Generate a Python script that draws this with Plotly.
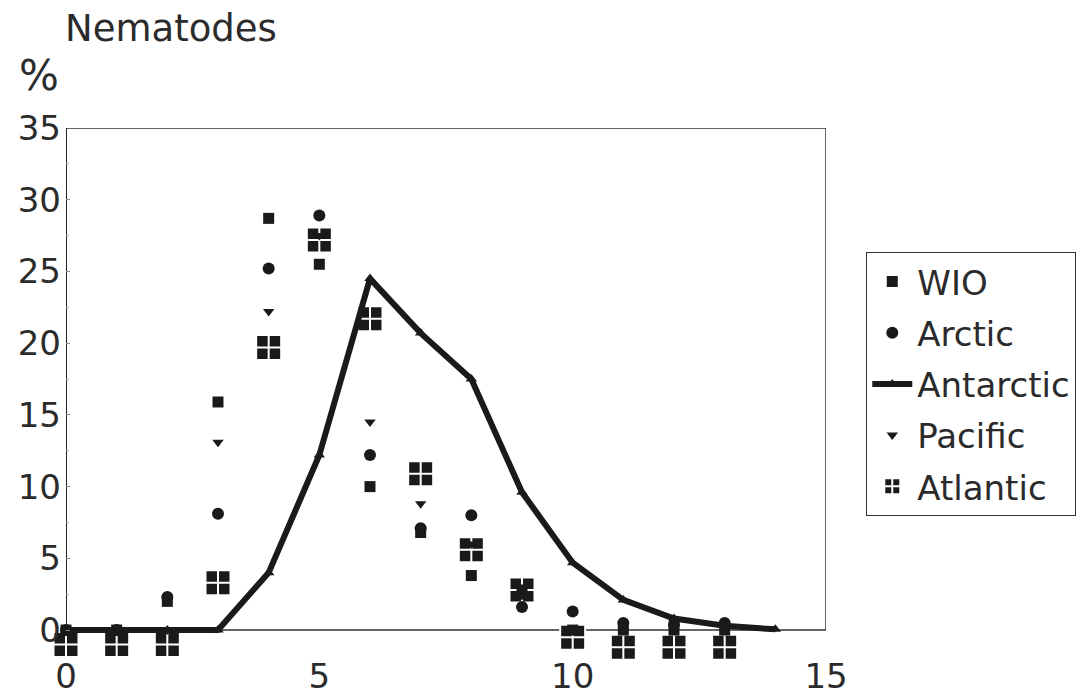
import plotly.graph_objects as go

x_vals = [0, 1, 2, 3, 4, 5, 6, 7, 8, 9, 10, 11, 12, 13]
wio = [0, 0, 2.0, 15.9, 28.7, 25.5, 10.0, 6.8, 3.8, 2.5, 0, 0, 0, 0]
arctic = [0, 0, 2.3, 8.1, 25.2, 28.9, 12.2, 7.1, 8.0, 1.6, 1.3, 0.5, 0.4, 0.5]
antarctic_x = [0, 1, 2, 3, 4, 5, 6, 7, 8, 9, 10, 11, 12, 13, 14]
antarctic = [0, 0, 0, 0, 4.0, 12.2, 24.5, 20.7, 17.5, 9.6, 4.7, 2.1, 0.8, 0.3, 0.05]
pacific = [0, 0, 0, 13.1, 22.2, 27.5, 14.5, 8.8, 6.0, 3.0, 0, 0, 0, 0]
atlantic = [-1.0, -1.0, -1.0, 3.3, 19.7, 27.2, 21.7, 10.9, 5.6, 2.8, -0.5, -1.2, -1.2, -1.2]

x_ticks = [0, 5, 10, 15]
y_ticks = [0, 5, 10, 15, 20, 25, 30, 35]
X_MIN, X_MAX = 0, 15
Y_MIN, Y_MAX = 0, 35

FONT = "DejaVu Sans"
TXT = "#2b2b2b"

fig = go.Figure()

fig.add_trace(go.Scatter(
    x=x_vals, y=atlantic, mode="markers", name="Atlantic", legendgroup="e", legendrank=5,
    marker=dict(symbol="square-cross", size=25, color="#1a1a1a",
                line=dict(color="white", width=2)),
    cliponaxis=False))
fig.add_trace(go.Scatter(
    x=x_vals, y=wio, mode="markers", name="WIO", legendgroup="a", legendrank=1,
    marker=dict(symbol="square", size=11, color="#1a1a1a"), cliponaxis=False))
fig.add_trace(go.Scatter(
    x=x_vals, y=arctic, mode="markers", name="Arctic", legendgroup="b", legendrank=2,
    marker=dict(symbol="circle", size=12, color="#1a1a1a"), cliponaxis=False))
fig.add_trace(go.Scatter(
    x=x_vals, y=pacific, mode="markers", name="Pacific", legendgroup="d", legendrank=4,
    marker=dict(symbol="triangle-down", size=10, color="#1a1a1a"), cliponaxis=False))
fig.add_trace(go.Scatter(
    x=antarctic_x, y=antarctic, mode="lines+markers", name="Antarctic", legendgroup="c",
    legendrank=3,
    line=dict(color="#1a1a1a", width=6),
    marker=dict(symbol="triangle-up", size=10, color="#1a1a1a"), cliponaxis=False))

# plot frame (axes box) from 0..15 x 0..35
fig.add_shape(type="rect", xref="x", yref="y", x0=X_MIN, x1=X_MAX, y0=Y_MIN, y1=Y_MAX,
              line=dict(color="#333333", width=1.5), fillcolor="rgba(0,0,0,0)",
              layer="below")
fig.add_shape(type="line", xref="x", yref="y", x0=X_MIN, x1=X_MIN, y0=Y_MIN, y1=Y_MAX,
              line=dict(color="#222222", width=2), layer="below")

fig.update_layout(
    width=1092, height=695,
    paper_bgcolor="white", plot_bgcolor="white",
    margin=dict(l=66, r=266, t=128, b=42, autoexpand=False),
    font=dict(family=FONT, size=33, color=TXT),
    showlegend=True,
    legend=dict(
        x=1.053, y=0.764, xanchor="left", yanchor="top",
        bordercolor="#333333", borderwidth=1, bgcolor="white",
        font=dict(family=FONT, size=34, color=TXT),
        traceorder="grouped", tracegroupgap=4,
        itemwidth=40,
    ),
    xaxis=dict(
        range=[X_MIN, X_MAX], tickvals=x_ticks, ticktext=[str(v) for v in x_ticks],
        showgrid=False, zeroline=False, showline=False,
        ticks="", tickfont=dict(size=34, color=TXT),
        ticklabelstandoff=0, automargin=False,
    ),
    yaxis=dict(
        range=[-1.6, Y_MAX], tickvals=y_ticks, ticktext=[str(v) for v in y_ticks],
        showgrid=False, zeroline=False, showline=False,
        ticks="inside", ticklen=4, tickcolor="#888888",
        minor=dict(ticks="inside", ticklen=3, tickvals=[2.5, 7.5, 12.5, 17.5, 22.5, 27.5, 32.5],
                   tickcolor="#aaaaaa"),
        tickfont=dict(size=34, color=TXT), ticklabelstandoff=4,
        automargin=False,
    ),
    annotations=[
        dict(text="Nematodes", xref="paper", yref="paper", x=-0.004, y=1.19,
             xanchor="left", yanchor="middle", showarrow=False,
             font=dict(family=FONT, size=37, color=TXT)),
        dict(text="%", xref="paper", yref="paper", x=-0.065, y=1.1,
             xanchor="left", yanchor="middle", showarrow=False,
             font=dict(family=FONT, size=42, color=TXT)),
    ],
)

fig.write_html("out.html", config={"displayModeBar": False},
               post_script="document.body.style.margin='0px';")
